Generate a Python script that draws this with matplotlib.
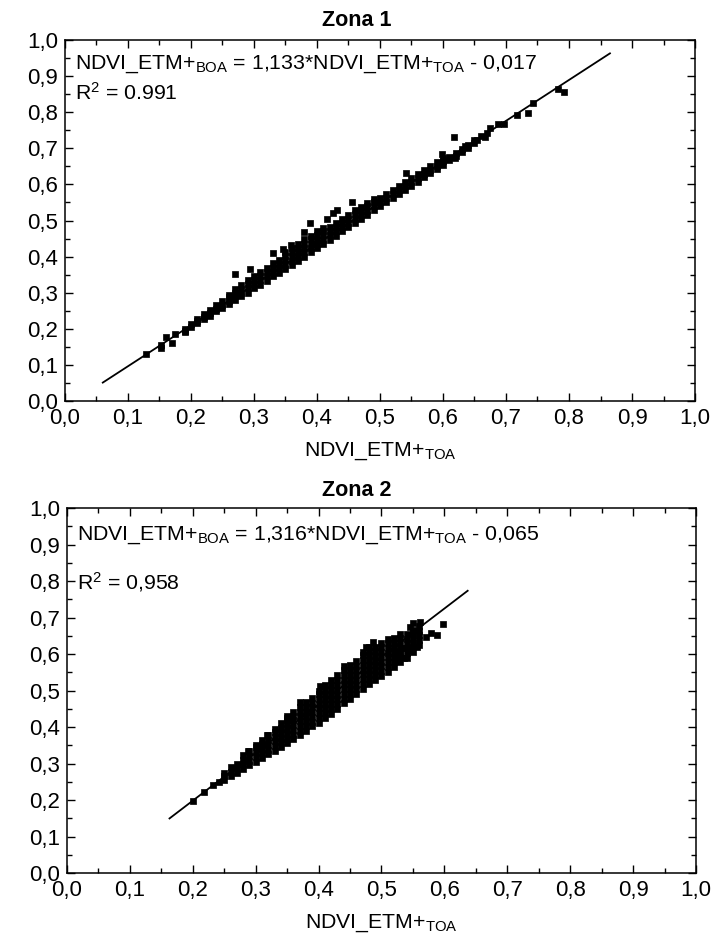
import matplotlib
matplotlib.use("Agg")
import matplotlib.pyplot as plt
from matplotlib.ticker import MultipleLocator, FuncFormatter

plt.rcParams['font.family'] = ['Liberation Sans', 'DejaVu Sans']
plt.rcParams['mathtext.fontset'] = 'custom'
plt.rcParams['mathtext.rm'] = 'Liberation Sans'
plt.rcParams['mathtext.it'] = 'Liberation Sans:italic'
plt.rcParams['mathtext.bf'] = 'Liberation Sans:bold'

# ---- Zona 1 : dense band, one column of y values per x ----
zona1_col_x = [0.19, 0.20, 0.21, 0.22, 0.23, 0.24, 0.25, 0.26, 0.27, 0.28,
               0.29, 0.30, 0.31, 0.32, 0.33, 0.34, 0.35, 0.36, 0.37, 0.38,
               0.39, 0.40, 0.41, 0.42, 0.43, 0.44, 0.45, 0.46, 0.47, 0.48,
               0.49, 0.50, 0.51, 0.52, 0.53, 0.54, 0.55, 0.56, 0.57, 0.58,
               0.59, 0.60, 0.61, 0.62, 0.63, 0.64, 0.65]
zona1_col_y = [
    [0.190, 0.195, 0.200],
    [0.205, 0.212],
    [0.215, 0.222, 0.228],
    [0.226, 0.233, 0.240],
    [0.236, 0.244, 0.252],
    [0.248, 0.256, 0.265],
    [0.258, 0.267, 0.276],
    [0.268, 0.278, 0.288, 0.295],
    [0.280, 0.290, 0.300, 0.310],
    [0.290, 0.300, 0.310, 0.320],
    [0.300, 0.312, 0.324, 0.334],
    [0.312, 0.323, 0.335, 0.346],
    [0.322, 0.334, 0.346, 0.358],
    [0.333, 0.345, 0.357, 0.369],
    [0.345, 0.357, 0.369, 0.381],
    [0.355, 0.368, 0.380, 0.392],
    [0.366, 0.378, 0.390, 0.402, 0.412],
    [0.377, 0.389, 0.401, 0.413, 0.424],
    [0.388, 0.400, 0.412, 0.424, 0.436],
    [0.400, 0.412, 0.424, 0.436, 0.448],
    [0.412, 0.424, 0.436, 0.448, 0.458],
    [0.423, 0.435, 0.447, 0.459, 0.470],
    [0.435, 0.447, 0.459, 0.471, 0.480],
    [0.447, 0.459, 0.471, 0.483],
    [0.458, 0.470, 0.482, 0.494],
    [0.470, 0.482, 0.494, 0.505],
    [0.481, 0.493, 0.505, 0.516],
    [0.493, 0.505, 0.517, 0.528],
    [0.505, 0.516, 0.528, 0.538],
    [0.516, 0.527, 0.539, 0.548],
    [0.528, 0.539, 0.550, 0.560],
    [0.540, 0.551, 0.562],
    [0.551, 0.562, 0.573],
    [0.562, 0.573, 0.584],
    [0.574, 0.585, 0.596],
    [0.585, 0.596, 0.607],
    [0.596, 0.607, 0.618],
    [0.608, 0.618, 0.628],
    [0.620, 0.630, 0.640],
    [0.632, 0.641, 0.650],
    [0.643, 0.652, 0.661],
    [0.655, 0.664, 0.673],
    [0.667, 0.676],
    [0.678, 0.688],
    [0.690, 0.699],
    [0.702, 0.710],
    [0.714, 0.722],
]
# scattered points outside the band
zona1_out_x = [0.129, 0.152, 0.152, 0.160, 0.170, 0.175, 0.270, 0.294, 0.330,
               0.346, 0.359, 0.379, 0.389, 0.416, 0.425, 0.432, 0.455, 0.542,
               0.598, 0.619, 0.618, 0.635, 0.654, 0.660, 0.667, 0.670, 0.675,
               0.688, 0.697, 0.718, 0.735, 0.743, 0.783, 0.792]
zona1_out_y = [0.130, 0.146, 0.155, 0.177, 0.160, 0.185, 0.351, 0.367, 0.409,
               0.420, 0.431, 0.467, 0.492, 0.505, 0.520, 0.528, 0.550, 0.633,
               0.685, 0.674, 0.732, 0.707, 0.723, 0.735, 0.732, 0.742, 0.757,
               0.768, 0.768, 0.793, 0.798, 0.826, 0.865, 0.856]
zona1_fit = (1.133, -0.017)
zona1_fit_range = (0.06, 0.865)
zona1_eq = r"NDVI_ETM+$_{\mathrm{BOA}}$ = 1,133*NDVI_ETM+$_{\mathrm{TOA}}$ - 0,017"
zona1_r2 = r"R$^{2}$ = 0.991"

# ---- Zona 2 ----
zona2_col_x = [0.25, 0.26, 0.27, 0.28, 0.29, 0.30, 0.31, 0.32, 0.33, 0.34,
               0.35, 0.36, 0.37, 0.38, 0.39, 0.40, 0.41, 0.42, 0.43, 0.44,
               0.45, 0.46, 0.47, 0.48, 0.49, 0.50, 0.51, 0.52, 0.53, 0.54,
               0.55, 0.56]
zona2_col_y = [
    [0.255, 0.265, 0.275],
    [0.265, 0.277, 0.290],
    [0.275, 0.288, 0.300],
    [0.285, 0.298, 0.310, 0.322],
    [0.295, 0.308, 0.321, 0.334],
    [0.305, 0.318, 0.331, 0.344, 0.352],
    [0.315, 0.328, 0.341, 0.354, 0.365],
    [0.325, 0.338, 0.351, 0.364, 0.377],
    [0.335, 0.348, 0.361, 0.374, 0.387, 0.395],
    [0.345, 0.358, 0.371, 0.384, 0.397, 0.410],
    [0.355, 0.368, 0.381, 0.394, 0.407, 0.420, 0.426],
    [0.366, 0.379, 0.392, 0.405, 0.418, 0.431, 0.440],
    [0.377, 0.390, 0.403, 0.416, 0.429, 0.442, 0.455],
    [0.390, 0.403, 0.416, 0.429, 0.442, 0.455, 0.468],
    [0.402, 0.415, 0.428, 0.441, 0.454, 0.467, 0.480],
    [0.412, 0.425, 0.438, 0.451, 0.464, 0.477, 0.490, 0.500],
    [0.425, 0.438, 0.451, 0.464, 0.477, 0.490, 0.503, 0.514],
    [0.437, 0.450, 0.463, 0.476, 0.489, 0.502, 0.515, 0.528],
    [0.450, 0.463, 0.476, 0.489, 0.502, 0.515, 0.528, 0.542],
    [0.465, 0.478, 0.491, 0.504, 0.517, 0.530, 0.543, 0.556],
    [0.478, 0.491, 0.504, 0.517, 0.530, 0.543, 0.556, 0.569],
    [0.490, 0.503, 0.516, 0.529, 0.542, 0.555, 0.568, 0.581],
    [0.505, 0.518, 0.531, 0.544, 0.557, 0.570, 0.583, 0.596, 0.605],
    [0.518, 0.531, 0.544, 0.557, 0.570, 0.583, 0.596, 0.609, 0.618],
    [0.530, 0.543, 0.556, 0.569, 0.582, 0.595, 0.608, 0.620],
    [0.540, 0.553, 0.566, 0.579, 0.592, 0.605, 0.618, 0.630],
    [0.552, 0.565, 0.578, 0.591, 0.604, 0.617, 0.630, 0.640],
    [0.565, 0.578, 0.591, 0.604, 0.617, 0.630, 0.643],
    [0.578, 0.591, 0.604, 0.617, 0.630, 0.643, 0.655],
    [0.590, 0.603, 0.616, 0.629, 0.642, 0.655],
    [0.605, 0.618, 0.631, 0.644, 0.657, 0.667],
    [0.625, 0.638, 0.651, 0.664, 0.676],
]
zona2_out_x = [0.200, 0.218, 0.232, 0.242, 0.287, 0.318, 0.350, 0.371, 0.403,
               0.440, 0.475, 0.486, 0.527, 0.535, 0.530, 0.538, 0.546, 0.557,
               0.570, 0.578, 0.589, 0.597, 0.562, 0.550, 0.545]
zona2_out_y = [0.198, 0.222, 0.240, 0.250, 0.333, 0.378, 0.430, 0.468, 0.512,
               0.567, 0.620, 0.633, 0.584, 0.589, 0.608, 0.616, 0.611, 0.620,
               0.647, 0.657, 0.652, 0.682, 0.688, 0.685, 0.675]
zona2_fit = (1.316, -0.065)
zona2_fit_range = (0.163, 0.637)
zona2_eq = r"NDVI_ETM+$_{\mathrm{BOA}}$ = 1,316*NDVI_ETM+$_{\mathrm{TOA}}$ - 0,065"
zona2_r2 = r"R$^{2}$ = 0,958"

xlabel = r"NDVI_ETM+$_{\mathrm{TOA}}$"


def comma(v, pos):
    return f"{v:.1f}".replace('.', ',')


def draw_panel(ax, col_x, col_y, out_x, out_y, fit, fit_range, eq, r2, eq_y, r2_y):
    xs = []
    ys = []
    for x, col in zip(col_x, col_y):
        for y in col:
            xs.append(x)
            ys.append(y)
    xs += out_x
    ys += out_y
    # thin edge in the same colour closes the hairline gaps between columns
    ax.scatter(xs, ys, marker='s', s=22, color='black', edgecolors='black',
               linewidths=0.5, zorder=3)

    # regression line
    a, b = fit
    lx = [fit_range[0], fit_range[1]]
    ly = [a * v + b for v in lx]
    ax.plot(lx, ly, color='black', lw=1.3, zorder=4)

    ax.set_xlim(0, 1)
    ax.set_ylim(0, 1)
    ax.xaxis.set_major_locator(MultipleLocator(0.1))
    ax.yaxis.set_major_locator(MultipleLocator(0.1))
    ax.xaxis.set_minor_locator(MultipleLocator(0.05))
    ax.yaxis.set_minor_locator(MultipleLocator(0.05))
    ax.xaxis.set_major_formatter(FuncFormatter(comma))
    ax.yaxis.set_major_formatter(FuncFormatter(comma))
    ax.tick_params(which='both', direction='in', top=True, right=True,
                   labeltop=False, labelright=False, width=1)
    ax.tick_params(which='major', length=6, labelsize=16, pad=5)
    ax.tick_params(which='minor', length=3.5)
    for s in ax.spines.values():
        s.set_linewidth(1.1)

    ax.text(0.016, eq_y, eq, transform=ax.transAxes, fontsize=15.3, va='center')
    ax.text(0.016, r2_y, r2, transform=ax.transAxes, fontsize=15.3, va='center')
    ax.set_xlabel(xlabel, fontsize=15.3, labelpad=8)


fig = plt.figure(figsize=(7.14, 9.33), dpi=100)

ax1 = fig.add_axes([0.0910, 0.5702, 0.8824, 0.3869])
draw_panel(ax1, zona1_col_x, zona1_col_y, zona1_out_x, zona1_out_y,
           zona1_fit, zona1_fit_range, zona1_eq, zona1_r2, 0.934, 0.855)
fig.text(0.5, 0.9775, "Zona 1", fontsize=15.5, fontweight='bold', ha='center', va='center')

ax2 = fig.add_axes([0.0938, 0.0643, 0.8810, 0.3912])
draw_panel(ax2, zona2_col_x, zona2_col_y, zona2_out_x, zona2_out_y,
           zona2_fit, zona2_fit_range, zona2_eq, zona2_r2, 0.926, 0.797)
fig.text(0.5, 0.4748, "Zona 2", fontsize=15.5, fontweight='bold', ha='center', va='center')

fig.savefig("out.png", dpi=100)
